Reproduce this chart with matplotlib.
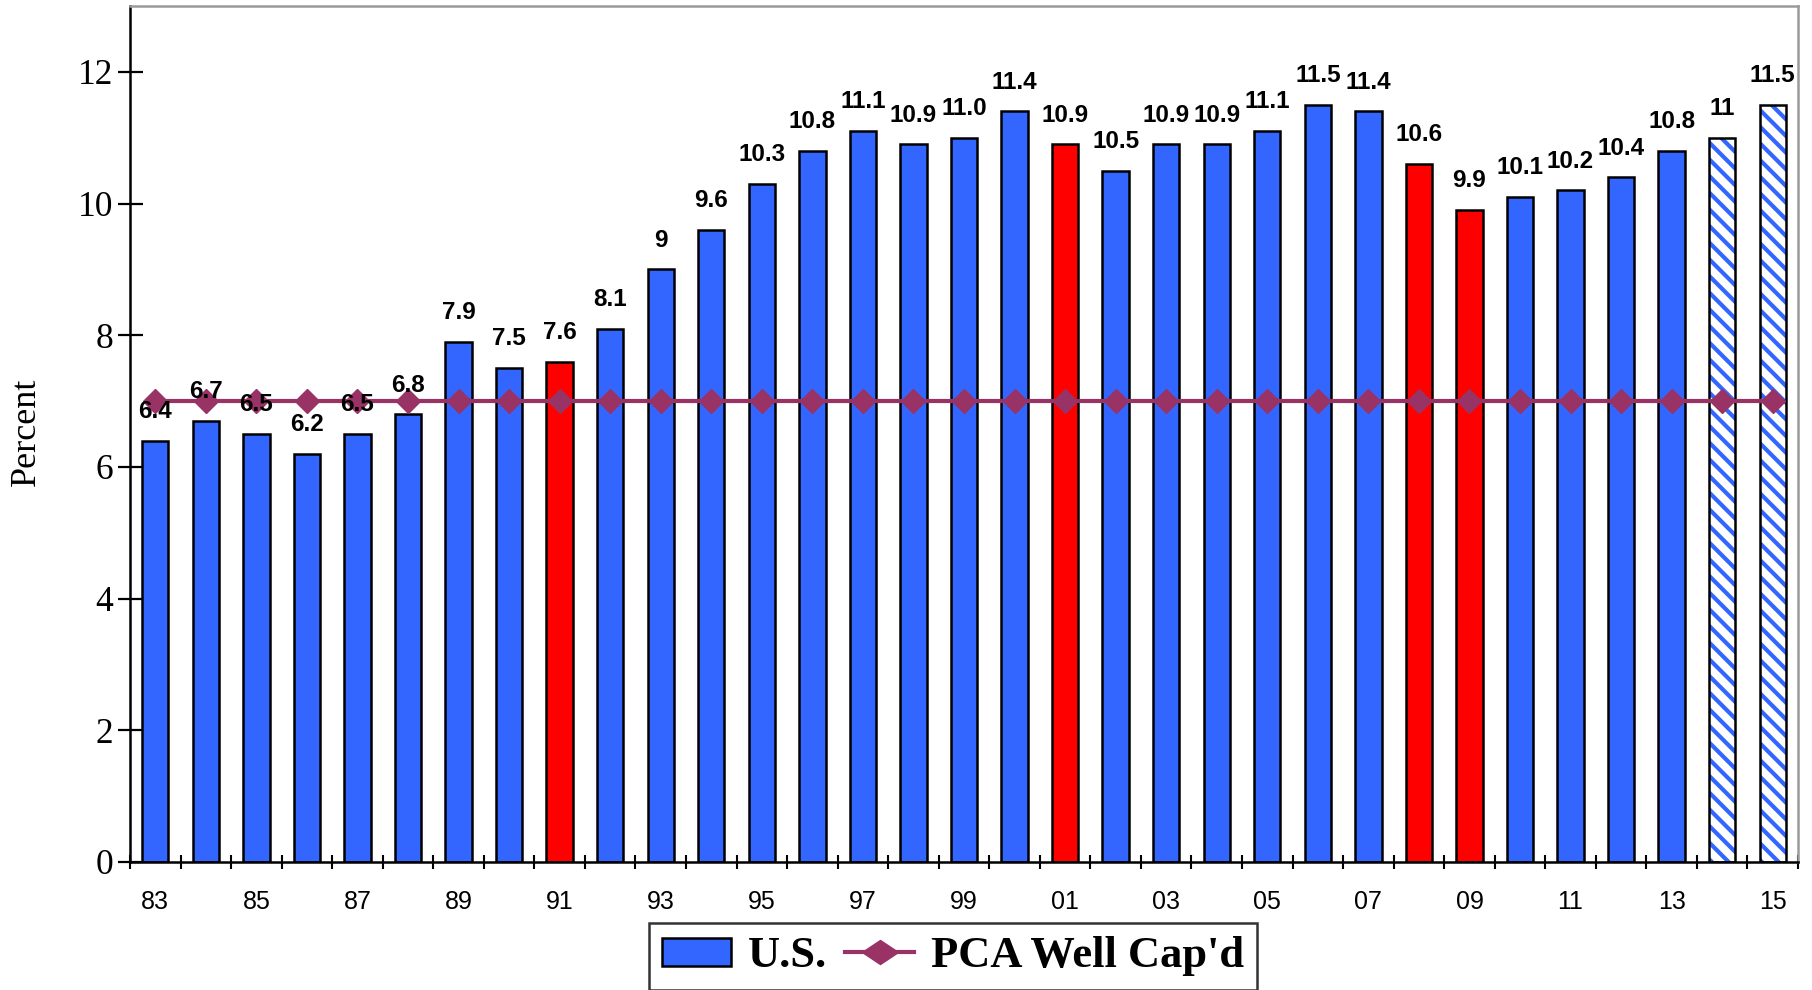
import matplotlib
matplotlib.use("Agg")
import matplotlib.pyplot as plt
from matplotlib.patches import Patch
from matplotlib.lines import Line2D
from matplotlib.path import Path

# Capital ratio by year (two-digit labels), 1983-2015
years = ["83", "84", "85", "86", "87", "88", "89", "90", "91", "92", "93",
         "94", "95", "96", "97", "98", "99", "00", "01", "02", "03", "04",
         "05", "06", "07", "08", "09", "10", "11", "12", "13", "14", "15"]
us_ratio = [6.4, 6.7, 6.5, 6.2, 6.5, 6.8, 7.9, 7.5, 7.6, 8.1, 9.0,
            9.6, 10.3, 10.8, 11.1, 10.9, 11.0, 11.4, 10.9, 10.5, 10.9, 10.9,
            11.1, 11.5, 11.4, 10.6, 9.9, 10.1, 10.2, 10.4, 10.8, 11.0, 11.5]
value_labels = ["6.4", "6.7", "6.5", "6.2", "6.5", "6.8", "7.9", "7.5", "7.6",
                "8.1", "9", "9.6", "10.3", "10.8", "11.1", "10.9", "11.0",
                "11.4", "10.9", "10.5", "10.9", "10.9", "11.1", "11.5", "11.4",
                "10.6", "9.9", "10.1", "10.2", "10.4", "10.8", "11", "11.5"]
pca_well_capd = [7.0] * len(years)
recession_years = ["91", "01", "08", "09"]
forecast_years = ["14", "15"]
shown_year_labels = ["83", "85", "87", "89", "91", "93", "95", "97", "99",
                     "01", "03", "05", "07", "09", "11", "13", "15"]

BLUE = "#3366FF"
RED = "#FF0000"
PLUM = "#993366"

plt.rcParams["hatch.linewidth"] = 3.0

fig = plt.figure(figsize=(18.12, 9.9), dpi=100)
ax = fig.add_axes([130 / 1812, 1 - 862 / 990, (1798 - 130) / 1812, (862 - 6) / 990])

x = list(range(len(years)))
for i, (yr, val) in enumerate(zip(years, us_ratio)):
    if yr in forecast_years:
        # blue diagonal stripes on white, then a black outline on top
        ax.bar(i, val, width=0.52, facecolor="white", edgecolor=BLUE,
               hatch="\\\\", linewidth=0, zorder=2)
        ax.bar(i, val, width=0.52, fill=False, edgecolor="black",
               linewidth=1.8, zorder=2.1)
    else:
        color = RED if yr in recession_years else BLUE
        ax.bar(i, val, width=0.52, color=color, edgecolor="black",
               linewidth=1.8, zorder=2)

ax.plot(x, pca_well_capd, color=PLUM, linewidth=3, marker="D",
        markersize=12.5, zorder=3)

for i, (val, txt) in enumerate(zip(us_ratio, value_labels)):
    ax.annotate(txt, (i, val), xytext=(0, 21), textcoords="offset points",
                ha="center", va="center", fontsize=17.5, fontweight="bold",
                family="Liberation Sans", color="black", zorder=5)

ax.set_xlim(-0.5, len(years) - 0.5)
ax.set_ylim(0, 13)

# tick marks at category boundaries, year labels at centers
ax.set_xticks([i - 0.5 for i in range(len(years) + 1)])
ax.set_xticklabels([])
ax.tick_params(axis="x", which="major", direction="inout", length=10,
               width=1.5, color="black")
centers = [years.index(y) for y in shown_year_labels]
ax.set_xticks(centers, minor=True)
ax.set_xticklabels(shown_year_labels, minor=True, fontsize=18,
                   family="Liberation Sans")
ax.tick_params(axis="x", which="minor", length=0, pad=20)

ax.set_yticks([0, 2, 4, 6, 8, 10, 12])
ax.set_yticklabels(["0", "2", "4", "6", "8", "10", "12"], fontsize=25.5,
                   family="Liberation Serif")
ax.tick_params(axis="y", direction="inout", length=18, width=1.6, pad=3)

for side in ("left", "bottom"):
    ax.spines[side].set_color("black")
    ax.spines[side].set_linewidth(1.8)
for side in ("top", "right"):
    ax.spines[side].set_color("#9a9a9a")
    ax.spines[side].set_linewidth(1.8)
ax.spines["bottom"].set_zorder(4)

fig.text(26 / 1812, 1 - 432 / 990, "Percent", rotation=90, ha="center",
         va="center", fontsize=26, family="Liberation Serif")

diamond = Path([(-1.5, 0), (0, 1), (1.5, 0), (0, -1), (-1.5, 0)],
               [Path.MOVETO, Path.LINETO, Path.LINETO, Path.LINETO,
                Path.CLOSEPOLY])
handles = [
    Patch(facecolor=BLUE, edgecolor="black", linewidth=1.8),
    Line2D([], [], color=PLUM, linewidth=3, marker=diamond, markersize=26),
]
leg = fig.legend(handles, ["U.S.", "PCA Well Cap'd"], loc="upper left",
                 bbox_to_anchor=(649 / 1812, 1 - 923 / 990), ncol=2,
                 frameon=True, fancybox=False, borderaxespad=0,
                 prop={"family": "Liberation Serif", "weight": "bold",
                       "size": 32},
                 handlelength=1.55, handleheight=0.6, handletextpad=0.38,
                 columnspacing=0.4, borderpad=0.3)
leg.get_frame().set_edgecolor("black")
leg.get_frame().set_linewidth(1.8)

fig.savefig("out.png", dpi=100)
